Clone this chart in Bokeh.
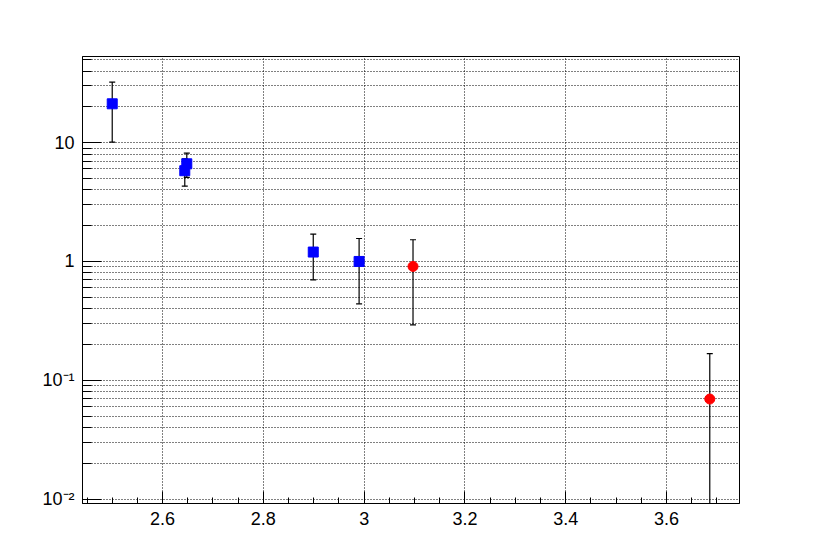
import numpy as np
from bokeh.plotting import figure
from bokeh.models import FixedTicker, ColumnDataSource, CustomJSTickFormatter
from bokeh.embed import file_html
from bokeh.resources import INLINE

# ---- data ----
blue_x = [2.500, 2.644, 2.648, 2.899, 2.990]
blue_y = [21.2, 5.80, 6.63, 1.20, 1.00]
blue_err = [11.1, 1.50, 1.53, 0.50, 0.56]

red_x = [3.097, 3.686]
red_y = [0.908, 0.0696]
red_err = [0.615, 0.098]

x_major = [2.6, 2.8, 3.0, 3.2, 3.4, 3.6]
x_labels = ["2.6", "2.8", "3", "3.2", "3.4", "3.6"]
y_major = [0.01, 0.1, 1, 10]
y_labels = ["10\u207b\u00b2", "10\u207b\u00b9", "1", "10"]

FONT = "Liberation Sans"

p = figure(width=814, height=552, x_range=(2.441, 3.745), y_range=(0.0092, 53),
           y_axis_type="log", output_backend="svg", toolbar_location=None,
           min_border_left=82, min_border_right=75, min_border_top=56, min_border_bottom=49)
p.background_fill_color = "white"
p.border_fill_color = "white"
p.outline_line_color = "black"
p.outline_line_width = 1

# ticks
x_minor = [round(2.45 + 0.05 * i, 2) for i in range(27)]
p.xaxis.ticker = FixedTicker(ticks=x_major, minor_ticks=x_minor)
p.xaxis.formatter = CustomJSTickFormatter(args=dict(vals=x_major, labs=x_labels), code="""
for (let i = 0; i < vals.length; i++) { if (Math.abs(tick - vals[i]) < 1e-6) return labs[i]; }
return '';
""")
y_minor = [m * d for d in [0.001, 0.01, 0.1, 1, 10] for m in range(2, 10)]
p.yaxis.ticker = FixedTicker(ticks=y_major, minor_ticks=y_minor)
p.yaxis.formatter = CustomJSTickFormatter(args=dict(vals=y_major, labs=y_labels), code="""
for (let i = 0; i < vals.length; i++) { if (Math.abs(tick / vals[i] - 1) < 1e-6) return labs[i]; }
return '';
""")

for ax in (p.xaxis[0], p.yaxis[0]):
    ax.axis_line_color = "black"
    ax.axis_line_width = 1
    ax.major_tick_line_color = "black"
    ax.minor_tick_line_color = "black"
    ax.major_tick_out = 0
    ax.minor_tick_out = 0
    ax.major_label_text_font = FONT
    ax.major_label_text_font_size = "18px"
    ax.major_label_text_color = "black"
    ax.major_label_standoff = 8
p.xaxis.major_tick_in = 12
p.xaxis.minor_tick_in = 6
p.yaxis.major_tick_in = 19
p.yaxis.minor_tick_in = 9

# grid
p.xgrid.grid_line_color = "black"
p.xgrid.grid_line_dash = "1 2"
p.xgrid.grid_line_width = 1
p.ygrid.grid_line_color = "black"
p.ygrid.grid_line_dash = "1 2"
p.ygrid.grid_line_width = 1
p.ygrid.minor_grid_line_color = "black"
p.ygrid.minor_grid_line_dash = "1 2"
p.ygrid.minor_grid_line_width = 1

def errbars(xs, ys, es):
    lo = [max(y - e, 1e-6) for y, e in zip(ys, es)]
    hi = [y + e for y, e in zip(ys, es)]
    src = ColumnDataSource(dict(x=xs, lo=lo, hi=hi))
    p.segment(x0="x", y0="lo", x1="x", y1="hi", source=src, line_color="black", line_width=1.2)
    p.scatter(x="x", y="hi", source=src, marker="dash", size=6, line_color="black", line_width=1.2)
    p.scatter(x="x", y="lo", source=src, marker="dash", size=6, line_color="black", line_width=1.2)

errbars(blue_x, blue_y, blue_err)
errbars(red_x, red_y, red_err)

p.scatter(blue_x, blue_y, marker="square", size=10, fill_color="#0000ff", line_color="#0000ff")
p.scatter(red_x, red_y, marker="circle", size=10, fill_color="#ff0000", line_color="#ff0000")

open("out.html", "w").write(file_html(p, INLINE))
